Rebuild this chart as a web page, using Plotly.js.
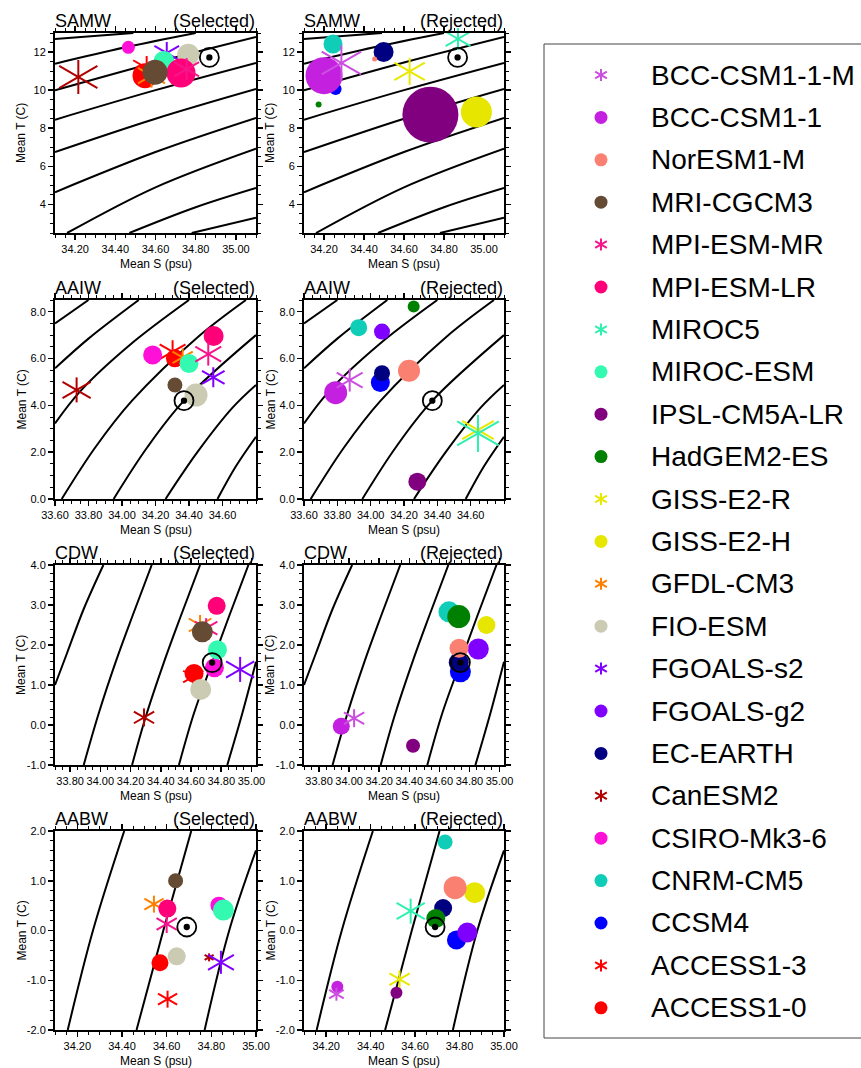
<!DOCTYPE html>
<html><head><meta charset="utf-8">
<script src="https://cdn.plot.ly/plotly-3.0.1.min.js"></script>
<style>html,body{margin:0;padding:0;background:#fff}#chart{width:861px;height:1068px}</style>
</head><body><div id="chart"></div>
<script>
const W = 861, H = 1068;

// ---------- models (legend order) ----------
const modelNames = ['BCC-CSM1-1-M','BCC-CSM1-1','NorESM1-M','MRI-CGCM3','MPI-ESM-MR','MPI-ESM-LR','MIROC5','MIROC-ESM','IPSL-CM5A-LR','HadGEM2-ES','GISS-E2-R','GISS-E2-H','GFDL-CM3','FIO-ESM','FGOALS-s2','FGOALS-g2','EC-EARTH','CanESM2','CSIRO-Mk3-6','CNRM-CM5','CCSM4','ACCESS1-3','ACCESS1-0'];
const modelColors = ['#CC4FE0','#C420E0','#FA8072','#654B33','#F5168C','#FF0078','#30F0B0','#33FAB0','#800080','#008000','#E8E800','#E6E600','#FF8000','#CBCBB3','#8000FF','#8000FF','#000080','#B00000','#FF10D8','#10CDB8','#0000FF','#FF0000','#FF0000'];
const modelMarks = ['star','circle','circle','circle','star','circle','star','circle','circle','circle','star','circle','star','circle','star','circle','circle','star','circle','circle','circle','star','circle'];

// ---------- observations ----------
const waterMasses = ['SAMW','AAIW','CDW','AABW'];
const obsS = [34.868, 34.37, 34.74, 34.69];
const obsT = [11.72, 4.20, 1.56, 0.07];

// ---------- SAMW ----------
const samwSelModels = ['CSIRO-Mk3-6','CanESM2','FGOALS-s2','MIROC-ESM','FIO-ESM','ACCESS1-0','ACCESS1-3','GFDL-CM3','MRI-CGCM3','MPI-ESM-LR','MPI-ESM-MR'];
const samwSelS = [34.465, 34.216, 34.656, 34.642, 34.763, 34.548, 34.556, 34.58, 34.598, 34.727, 34.755];
const samwSelT = [12.25, 10.69, 11.95, 11.51, 11.86, 10.76, 11.16, 10.76, 10.94, 10.90, 11.10];
const samwSelSize = [13, 34, 22, 21, 22, 25, 24, 24, 25, 29, 22];
const samwRejModels = ['CNRM-CM5','BCC-CSM1-1-M','BCC-CSM1-1','CCSM4','HadGEM2-ES','NorESM1-M','EC-EARTH','GISS-E2-R','MIROC5','IPSL-CM5A-LR','GISS-E2-H'];
const samwRejS = [34.245, 34.287, 34.20, 34.258, 34.173, 34.453, 34.498, 34.628, 34.87, 34.732, 34.962];
const samwRejT = [12.42, 11.43, 10.76, 10.06, 9.24, 11.64, 12.00, 10.99, 12.69, 8.71, 8.85];
const samwRejSize = [19, 35, 37, 12, 6, 5, 20, 27, 22, 56, 31];

// ---------- AAIW ----------
const aaiwSelModels = ['CSIRO-Mk3-6','ACCESS1-3','ACCESS1-0','GFDL-CM3','MIROC-ESM','MPI-ESM-LR','MPI-ESM-MR','FGOALS-s2','MRI-CGCM3','FIO-ESM','CanESM2'];
const aaiwSelS = [34.183, 34.302, 34.316, 34.362, 34.40, 34.547, 34.515, 34.545, 34.316, 34.442, 33.729];
const aaiwSelT = [6.15, 6.29, 6.01, 6.05, 5.79, 6.96, 6.19, 5.20, 4.87, 4.44, 4.66];
const aaiwSelSize = [19, 23, 18, 18, 19, 20, 23, 20, 15, 23, 25];
const aaiwRejModels = ['HadGEM2-ES','CNRM-CM5','FGOALS-g2','BCC-CSM1-1-M','BCC-CSM1-1','EC-EARTH','CCSM4','NorESM1-M','IPSL-CM5A-LR','GISS-E2-R','MIROC5'];
const aaiwRejS = [34.258, 33.928, 34.068, 33.874, 33.79, 34.068, 34.058, 34.23, 34.28, 34.644, 34.644];
const aaiwRejT = [8.22, 7.32, 7.15, 5.08, 4.54, 5.37, 4.98, 5.48, 0.74, 2.95, 2.80];
const aaiwRejSize = [12, 17, 16, 23, 23, 16, 19, 22, 18, 28, 37];

// ---------- CDW ----------
const cdwSelModels = ['MPI-ESM-LR','GFDL-CM3','MPI-ESM-MR','MRI-CGCM3','MIROC-ESM','CSIRO-Mk3-6','FGOALS-s2','ACCESS1-0','ACCESS1-3','FIO-ESM','CanESM2'];
const cdwSelS = [34.77, 34.66, 34.70, 34.675, 34.775, 34.755, 34.925, 34.62, 34.615, 34.664, 34.289];
const cdwSelT = [2.98, 2.50, 2.42, 2.33, 1.88, 1.43, 1.39, 1.29, 1.21, 0.89, 0.19];
const cdwSelSize = [18, 20, 20, 21, 19, 19, 25, 19, 18, 21, 18];
const cdwRejModels = ['CNRM-CM5','HadGEM2-ES','GISS-E2-H','NorESM1-M','FGOALS-g2','EC-EARTH','CCSM4','BCC-CSM1-1','BCC-CSM1-1-M','IPSL-CM5A-LR'];
const cdwRejS = [34.664, 34.729, 34.913, 34.731, 34.859, 34.729, 34.74, 33.948, 34.033, 34.425];
const cdwRejT = [2.83, 2.71, 2.50, 1.92, 1.90, 1.56, 1.33, -0.03, 0.17, -0.52];
const cdwRejSize = [21, 23, 18, 19, 21, 20, 21, 17, 18, 14];

// ---------- AABW ----------
const aabwSelModels = ['MRI-CGCM3','GFDL-CM3','MPI-ESM-LR','MPI-ESM-MR','CSIRO-Mk3-6','MIROC-ESM','ACCESS1-0','FIO-ESM','CanESM2','FGOALS-s2','ACCESS1-3'];
const aabwSelS = [34.64, 34.543, 34.603, 34.60, 34.834, 34.854, 34.57, 34.645, 34.79, 34.843, 34.604];
const aabwSelT = [1.00, 0.53, 0.44, 0.13, 0.51, 0.41, -0.65, -0.52, -0.54, -0.64, -1.38];
const aabwSelSize = [15, 17, 18, 18, 17, 21, 17, 18, 8, 23, 17];
const aabwRejModels = ['CNRM-CM5','NorESM1-M','GISS-E2-H','EC-EARTH','HadGEM2-ES','MIROC5','CCSM4','FGOALS-g2','GISS-E2-R','IPSL-CM5A-LR','BCC-CSM1-1','BCC-CSM1-1-M'];
const aabwRejS = [34.735, 34.78, 34.868, 34.726, 34.693, 34.58, 34.786, 34.835, 34.53, 34.516, 34.25, 34.246];
const aabwRejT = [1.78, 0.86, 0.76, 0.45, 0.24, 0.39, -0.19, -0.04, -0.98, -1.25, -1.13, -1.28];
const aabwRejSize = [15, 23, 21, 18, 19, 25, 19, 20, 18, 12, 12, 13];

// ---------- isopycnals ----------
const samwIsoS = [[34.1,34.49],[34.1,34.45,34.8],[34.1,34.6,35.1],[34.1,34.6,35.1],[34.1,34.6,35.1],[34.1,34.6,35.1],[34.16,34.6,35.1],[34.47,34.8,35.1],[34.78,35.1]];
const samwIsoT = [[12.69,13.0],[11.39,12.25,13.0],[9.99,11.45,12.79],[8.45,10.0,11.43],[6.75,8.5,10.06],[4.64,6.75,8.54],[2.5,4.9,6.93],[2.5,3.85,4.86],[2.5,3.3]];
const aaiwIsoS = [[33.6,33.8],[33.6,33.8,34.1],[33.6,33.75,34.05,34.4],[33.64,33.84,34.06,34.45,34.74],[33.95,34.15,34.37,34.8],[34.26,34.45,34.66,34.8],[34.57,34.68,34.8]];
const aaiwIsoT = [[7.5,8.5],[5.58,6.85,8.5],[3.23,4.6,6.6,8.5],[0,2.2,4.2,6.9,8.5],[0,2.2,4.2,7.0],[0,2.0,3.9,4.87],[0,1.4,2.66]];
const cdwIsoS = [[33.7,33.78,33.89,34.02],[33.89,33.99,34.1,34.21,34.34],[34.21,34.3,34.42,34.53,34.66],[34.52,34.62,34.74,34.85,34.98],[34.84,34.94,35.03]];
const cdwIsoT = [[1.0,1.8,2.9,4.0],[-1,0.3,1.56,2.7,4.0],[-1,0.2,1.56,2.7,4.0],[-1,0.3,1.56,2.7,4.0],[-1,0.3,1.58]];
const aabwIsoS = [[34.157,34.27,34.41],[34.465,34.585,34.71],[34.77,34.88,35.0]];
const aabwIsoT = [[-2,0,2],[-2,0,2],[-2,0,1.61]];

// ---------- axes ticks ----------
const samwXTicks = [34.2,34.4,34.6,34.8,35.0];
const samwYTicks = [4,6,8,10,12];
const aaiwXTicks = [33.6,33.8,34.0,34.2,34.4,34.6];
const aaiwYTicks = [0,2,4,6,8];
const cdwXTicks = [33.8,34.0,34.2,34.4,34.6,34.8,35.0];
const cdwYTicks = [-1,0,1,2,3,4];
const aabwXTicks = [34.2,34.4,34.6,34.8,35.0];
const aabwYTicks = [-2,-1,0,1,2];

// ---------- layout geometry (pixels) ----------
const colX = [[55,256],[304,504]];
const rowY = [[33,233],[300,499],[565,765],[831,1030]];
const FONT = 'Liberation Sans, Arial, Helvetica, sans-serif';

const px = v => v / W;
const py = v => 1 - v / H;
const fmt = (v, d) => (v < 0 ? '-' : '') + Math.abs(v).toFixed(d);

const STAR_DIAG = 1.3;

function panelTrace(models, S, T, size, xa, ya) {
  const idx = models.map((m, i) => i).sort((a, b) => modelNames.indexOf(models[b]) - modelNames.indexOf(models[a]));
  const xs = [], ys = [], sym = [], ang = [], sz = [], col = [], lw = [];
  idx.forEach(i => {
    const k = modelNames.indexOf(models[i]);
    const c = modelColors[k];
    if (modelMarks[k] === 'star') {
      [[90, size[i]], [30, size[i] * STAR_DIAG], [-30, size[i] * STAR_DIAG]].forEach(([a, l]) => {
        xs.push(S[i]); ys.push(T[i]); sym.push('line-ew-open'); ang.push(a); sz.push(l / 1.4); col.push(c); lw.push(2);
      });
    } else {
      xs.push(S[i]); ys.push(T[i]); sym.push('circle'); ang.push(0); sz.push(size[i]); col.push(c); lw.push(0);
    }
  });
  return {type: 'scatter', mode: 'markers', x: xs, y: ys, xaxis: xa, yaxis: ya, cliponaxis: false, hoverinfo: 'skip', showlegend: false,
    marker: {symbol: sym, angle: ang, size: sz, color: col, opacity: 1, line: {width: lw, color: col}}};
}

const panels = [
  {wm: 0, isoS: samwIsoS, isoT: samwIsoT, sel: [samwSelModels, samwSelS, samwSelT, samwSelSize], rej: [samwRejModels, samwRejS, samwRejT, samwRejSize],
   xr: [34.1, 35.1], yr: [2.5, 13.0], xt: samwXTicks, yt: samwYTicks, yd: 0, xminor: 0.05, yminor: 0.5},
  {wm: 1, isoS: aaiwIsoS, isoT: aaiwIsoT, sel: [aaiwSelModels, aaiwSelS, aaiwSelT, aaiwSelSize], rej: [aaiwRejModels, aaiwRejS, aaiwRejT, aaiwRejSize],
   xr: [33.6, 34.8], yr: [0, 8.5], xt: aaiwXTicks, yt: aaiwYTicks, yd: 1, xminor: 0.05, yminor: 0.5},
  {wm: 2, isoS: cdwIsoS, isoT: cdwIsoT, sel: [cdwSelModels, cdwSelS, cdwSelT, cdwSelSize], rej: [cdwRejModels, cdwRejS, cdwRejT, cdwRejSize],
   xr: [33.7, 35.03], yr: [-1, 4], xt: cdwXTicks, yt: cdwYTicks, yd: 1, xminor: 0.05, yminor: 0.2},
  {wm: 3, isoS: aabwIsoS, isoT: aabwIsoT, sel: [aabwSelModels, aabwSelS, aabwSelT, aabwSelSize], rej: [aabwRejModels, aabwRejS, aabwRejT, aabwRejSize],
   xr: [34.1, 35.0], yr: [-2, 2], xt: aabwXTicks, yt: aabwYTicks, yd: 1, xminor: 0.05, yminor: 0.2}
];

const traces = [];
const layout = {
  width: W, height: H, margin: {l: 0, r: 0, t: 0, b: 0}, paper_bgcolor: '#fff', plot_bgcolor: 'rgba(0,0,0,0)',
  showlegend: false, font: {family: FONT, color: '#000'}, annotations: [], shapes: []
};

let n = 0;
panels.forEach((p, r) => {
  [0, 1].forEach(c => {
    n++;
    const xa = 'x' + (n === 1 ? '' : n), ya = 'y' + (n === 1 ? '' : n);
    const xk = 'xaxis' + (n === 1 ? '' : n), yk = 'yaxis' + (n === 1 ? '' : n);
    const common = {showline: true, linecolor: '#000', linewidth: 2, mirror: 'allticks', ticks: 'outside', ticklen: 5, tickwidth: 1.5, tickcolor: '#000',
      showgrid: false, zeroline: false, tickfont: {size: 11, family: FONT, color: '#000'}, fixedrange: true};
    layout[xk] = Object.assign({}, common, {domain: [px(colX[c][0]), px(colX[c][1])], range: p.xr, anchor: ya,
      tickmode: 'array', tickvals: p.xt, ticktext: p.xt.map(v => fmt(v, 2)),
      minor: {ticks: 'outside', ticklen: 3, tickwidth: 1, tickcolor: '#000', tickmode: 'linear', tick0: 0, dtick: p.xminor}});
    layout[yk] = Object.assign({}, common, {domain: [py(rowY[r][1]), py(rowY[r][0])], range: p.yr, anchor: xa,
      tickmode: 'array', tickvals: p.yt, ticktext: p.yt.map(v => fmt(v, p.yd)),
      minor: {ticks: 'outside', ticklen: 3, tickwidth: 1, tickcolor: '#000', tickmode: 'linear', tick0: 0, dtick: p.yminor}});
    p.isoS.forEach((s, i) => {
      traces.push({type: 'scatter', mode: 'lines', x: s, y: p.isoT[i], xaxis: xa, yaxis: ya, hoverinfo: 'skip', showlegend: false,
        line: {color: '#000', width: 2, shape: 'spline', smoothing: 1}});
    });
    const d = c === 0 ? p.sel : p.rej;
    traces.push(panelTrace(d[0], d[1], d[2], d[3], xa, ya));
    traces.push({type: 'scatter', mode: 'markers', x: [obsS[p.wm], obsS[p.wm]], y: [obsT[p.wm], obsT[p.wm]], xaxis: xa, yaxis: ya,
      hoverinfo: 'skip', showlegend: false, cliponaxis: false,
      marker: {symbol: ['circle-open', 'circle'], size: [19, 4.5], color: '#000', opacity: 1, line: {width: 1.8, color: '#000'}}});
    const x0 = colX[c][0], x1 = colX[c][1], y0 = rowY[r][0], y1 = rowY[r][1];
    layout.annotations.push({text: waterMasses[p.wm], xref: 'paper', yref: 'paper', x: px(x0 - 2), y: py(y0 - 12), xanchor: 'left', yanchor: 'middle', showarrow: false, font: {size: 18, family: FONT}});
    layout.annotations.push({text: c === 0 ? '(Selected)' : '(Rejected)', xref: 'paper', yref: 'paper', x: px(x1 + 1), y: py(y0 - 12), xanchor: 'right', yanchor: 'middle', showarrow: false, font: {size: 18, family: FONT}});
    layout.annotations.push({text: 'Mean S (psu)', xref: 'paper', yref: 'paper', x: px((x0 + x1) / 2), y: py(y1 + 31), xanchor: 'center', yanchor: 'middle', showarrow: false, font: {size: 12, family: FONT}});
    layout.annotations.push({text: 'Mean T (C)', xref: 'paper', yref: 'paper', x: px(x0 - 34), y: py((y0 + y1) / 2), xanchor: 'center', yanchor: 'middle', textangle: -90, showarrow: false, font: {size: 12, family: FONT}});
  });
});

// ---------- legend ----------
const LEG_TOP = 75, LEG_STEP = 42.4, LEG_MX = 601, LEG_TX = 651;
layout.xaxis9 = {domain: [0, 1], range: [0, W], visible: false, fixedrange: true, anchor: 'y9'};
layout.yaxis9 = {domain: [0, 1], range: [H, 0], visible: false, fixedrange: true, anchor: 'x9'};
(function () {
  const xs = [], ys = [], sym = [], ang = [], sz = [], col = [], lw = [];
  modelNames.forEach((m, k) => {
    const y = LEG_TOP + k * LEG_STEP;
    if (modelMarks[k] === 'star') {
      [[90, 12], [30, 13.5], [-30, 13.5]].forEach(([a, l]) => { xs.push(LEG_MX); ys.push(y); sym.push('line-ew-open'); ang.push(a); sz.push(l / 1.4); col.push(modelColors[k]); lw.push(2); });
    } else {
      xs.push(LEG_MX); ys.push(y); sym.push('circle'); ang.push(0); sz.push(13); col.push(modelColors[k]); lw.push(0);
    }
    layout.annotations.push({text: m, xref: 'paper', yref: 'paper', x: px(LEG_TX - 2), y: py(y), xanchor: 'left', yanchor: 'middle', showarrow: false, font: {size: 28, family: FONT, color: '#000'}});
  });
  traces.push({type: 'scatter', mode: 'markers', x: xs, y: ys, xaxis: 'x9', yaxis: 'y9', hoverinfo: 'skip', showlegend: false, cliponaxis: false,
    marker: {symbol: sym, angle: ang, size: sz, color: col, opacity: 1, line: {width: lw, color: col}}});
})();
layout.shapes.push({type: 'rect', xref: 'paper', yref: 'paper', x0: px(544), x1: px(870), y0: py(1038), y1: py(44), line: {color: '#444', width: 1}, fillcolor: 'rgba(0,0,0,0)'});

Plotly.newPlot('chart', traces, layout, {staticPlot: true, displayModeBar: false});
</script>
</body></html>
